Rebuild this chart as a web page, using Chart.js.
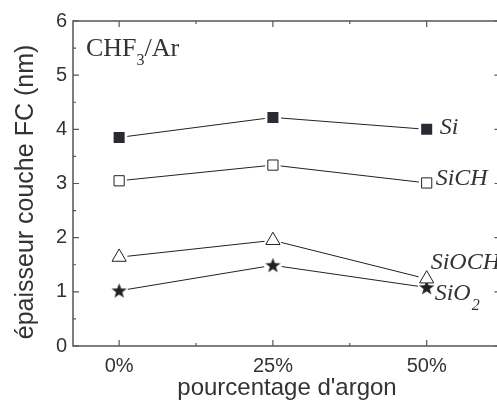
<!DOCTYPE html>
<html>
<head>
<meta charset="utf-8">
<script src="https://cdn.jsdelivr.net/npm/chart.js@4.4.1/dist/chart.umd.min.js"></script>
<style>
  html, body { margin: 0; padding: 0; background: #fff; overflow: hidden; }
  #wrap { width: 497px; height: 403px; overflow: hidden; position: relative; }
  canvas { display: block; }
</style>
</head>
<body>
<div id="wrap"><canvas id="c" width="502" height="403"></canvas></div>
<script>
// ---- data ----
const categories = ['0%', '25%', '50%'];
const xValues = [0, 25, 50];
const yTicks = [0, 1, 2, 3, 4, 5, 6];
const seriesNames = ['Si', 'SiCH', 'SiOCH', 'SiO2'];
const siValues = [3.85, 4.22, 4.00];
const sichValues = [3.05, 3.34, 3.01];
const siochValues = [1.64, 1.95, 1.24];
const sio2Values = [1.02, 1.49, 1.08];

const INK = '#222222';
const TXT = '#333333';
const AXIS = '#555555';

function pts(vals) { return xValues.map((x, i) => ({ x: x, y: vals[i] })); }

function makeStar(size, outer, inner, fill) {
  const cv = document.createElement('canvas');
  cv.width = size; cv.height = size;
  const g = cv.getContext('2d');
  const c = size / 2;
  g.beginPath();
  for (let k = 0; k < 10; k++) {
    const r = k % 2 === 0 ? outer : inner;
    const a = -Math.PI / 2 + k * Math.PI / 5;
    const px = c + r * Math.cos(a), py = c + 0.5 + r * Math.sin(a);
    if (k === 0) g.moveTo(px, py); else g.lineTo(px, py);
  }
  g.closePath();
  g.fillStyle = fill;
  g.fill();
  return cv;
}
const starImg = makeStar(17, 8, 3.3, INK);

const allSeries = [
  { vals: siValues, style: 'rect', r: 7.8, bg: '#2a2a33', bw: 0, halo: 'rect', hr: 11.5 },
  { vals: sichValues, style: 'rect', r: 7.2, bg: '#ffffff', bw: 1, halo: 'rect', hr: 11 },
  { vals: siochValues, style: 'triangle', r: 8.2, bg: '#ffffff', bw: 1, halo: 'circle', hr: 8.5 },
  { vals: sio2Values, style: starImg, r: 8, bg: INK, bw: 0, halo: 'circle', hr: 9 }
];

function makeDatasets() {
  const datasets = [];
  allSeries.forEach((s) => {
    datasets.push({ data: pts(s.vals), showLine: true, borderColor: INK, borderWidth: 1, pointRadius: 0, order: 30, fill: false });
  });
  allSeries.forEach((s) => {
    datasets.push({ data: pts(s.vals), showLine: false, pointStyle: s.halo, pointRadius: s.hr, pointBackgroundColor: '#ffffff', pointBorderWidth: 0, pointBorderColor: '#ffffff', order: 20 });
  });
  allSeries.forEach((s) => {
    datasets.push({ data: pts(s.vals), showLine: false, pointStyle: s.style, pointRadius: s.r, pointBackgroundColor: s.bg, pointBorderColor: INK, pointBorderWidth: s.bw, order: 10 });
  });
  return datasets;
}

const framePlugin = {
  id: 'frame',
  afterDatasetsDraw(chart) {
    const ctx = chart.ctx;
    const a = chart.chartArea;
    const xs = chart.scales.x, ys = chart.scales.y;
    ctx.save();
    ctx.strokeStyle = AXIS;
    ctx.lineWidth = 1.5;
    ctx.strokeRect(a.left, a.top, a.right - a.left, a.bottom - a.top);
    ctx.lineWidth = 1.2;
    ctx.beginPath();
    for (let v = 0; v <= 6; v += 0.5) {
      const py = ys.getPixelForValue(v);
      const len = Number.isInteger(v) ? 6 : 3;
      ctx.moveTo(a.left, py); ctx.lineTo(a.left + len, py);
      ctx.moveTo(a.right, py); ctx.lineTo(a.right - len, py);
    }
    for (let v = 0; v <= 50; v += 12.5) {
      const px = xs.getPixelForValue(v);
      const len = (v % 25 === 0) ? 6 : 3;
      ctx.moveTo(px, a.bottom); ctx.lineTo(px, a.bottom - len);
      ctx.moveTo(px, a.top); ctx.lineTo(px, a.top + len);
    }
    ctx.stroke();

    // axis titles
    ctx.fillStyle = TXT;
    ctx.font = '24px "Liberation Sans", Arial, sans-serif';
    ctx.textAlign = 'center';
    ctx.textBaseline = 'alphabetic';
    ctx.fillText('pourcentage d\'argon', 287, 395);
    ctx.save();
    ctx.font = '25px "Liberation Sans", Arial, sans-serif';
    ctx.translate(33, 192);
    ctx.rotate(-Math.PI / 2);
    ctx.fillText('épaisseur couche FC (nm)', 0, 0);
    ctx.restore();

    // CHF3/Ar
    ctx.textAlign = 'left';
    let x0 = a.left + 13, by = a.top + 35;
    ctx.font = '26px "Liberation Serif", "Times New Roman", serif';
    ctx.fillText('CHF', x0, by);
    x0 += ctx.measureText('CHF').width;
    ctx.font = '16px "Liberation Serif", "Times New Roman", serif';
    ctx.fillText('3', x0, by + 9);
    x0 += ctx.measureText('3').width;
    ctx.font = '26px "Liberation Serif", "Times New Roman", serif';
    ctx.fillText('/Ar', x0, by);

    // series labels at the last point
    const last = xValues.length - 1;
    const lx = xs.getPixelForValue(xValues[last]);
    ctx.font = 'italic 24px "Liberation Serif", "Times New Roman", serif';
    ctx.textBaseline = 'middle';
    ctx.fillText('Si', lx + 13, ys.getPixelForValue(siValues[last]) - 2);
    ctx.fillText('SiCH', lx + 9, ys.getPixelForValue(sichValues[last]) - 4);
    ctx.fillText('SiOCH', lx + 4, ys.getPixelForValue(siochValues[last]) - 16);
    const y2 = ys.getPixelForValue(sio2Values[last]) + 6;
    ctx.fillText('SiO', lx + 8, y2);
    const w = ctx.measureText('SiO').width;
    ctx.font = 'italic 16px "Liberation Serif", "Times New Roman", serif';
    ctx.fillText('2', lx + 8 + w + 1, y2 + 12);
    ctx.restore();
  }
};

function build() {
  return new Chart(document.getElementById('c'), {
    type: 'scatter',
    data: { datasets: makeDatasets() },
    options: {
      responsive: false,
      animation: false,
      devicePixelRatio: 1,
      layout: { padding: { top: 21, right: 0, left: 0, bottom: 0 } },
      plugins: { legend: { display: false }, tooltip: { enabled: false } },
      scales: {
        x: {
          type: 'linear', min: -7.5, max: 62,
          afterBuildTicks: (s) => { s.ticks = xValues.map(v => ({ value: v })); },
          afterFit: (s) => { s.height = 57; s.paddingLeft = 0; s.paddingRight = 0; },
          grid: { display: false, drawTicks: false },
          border: { display: false },
          ticks: {
            autoSkip: false, maxRotation: 0, padding: 8, color: TXT,
            font: { family: '"Liberation Sans", Arial, sans-serif', size: 20 },
            callback: (v) => { const i = xValues.indexOf(v); return i >= 0 ? categories[i] : ''; }
          }
        },
        y: {
          min: 0, max: 6,
          afterBuildTicks: (s) => { s.ticks = yTicks.map(v => ({ value: v })); },
          afterFit: (s) => { s.width = 73; s.paddingTop = 0; s.paddingBottom = 0; },
          grid: { display: false, drawTicks: false },
          border: { display: false },
          ticks: {
            padding: 6, color: TXT,
            font: { family: '"Liberation Sans", Arial, sans-serif', size: 20 }
          }
        }
      }
    },
    plugins: [framePlugin]
  });
}

// Build, then widen the canvas so the plot frame's right edge lands at x=500
// (just outside the 497px view, as in the reference).
const cv = document.getElementById('c');
let chart = build();
for (let k = 0; k < 3; k++) {
  const d = Math.round(500 - chart.chartArea.right);
  if (d === 0) break;
  chart.destroy();
  cv.width = cv.width + d;
  cv.height = 403;
  cv.style.width = ''; cv.style.height = '';
  chart = build();
}
</script>
</body>
</html>
